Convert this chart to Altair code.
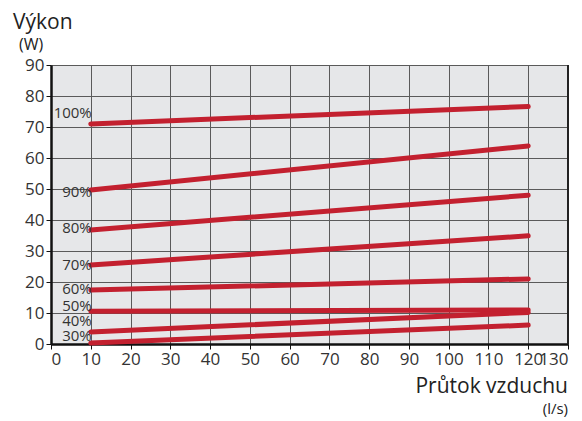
import altair as alt
import pandas as pd

labels = ["100%", "90%", "80%", "70%", "60%", "50%", "40%", "30%"]
flow_start = [10] * 8
flow_end = [120] * 8
power_start = [71.0, 49.7, 36.8, 25.5, 17.4, 10.6, 3.9, 0.3]
power_end = [76.6, 63.9, 48.0, 34.9, 21.0, 11.0, 10.2, 6.1]
label_y = [74.6, 49.0, 37.4, 25.5, 17.7, 12.4, 7.3, 2.5]

rows = []
for i, lab in enumerate(labels):
    rows.append({"s": lab, "x": flow_start[i], "y": power_start[i], "o": 0})
    rows.append({"s": lab, "x": flow_end[i], "y": power_end[i], "o": 1})
df = pd.DataFrame(rows)
lab_df = pd.DataFrame({"s": labels, "x": flow_start, "y": label_y})

FONT = "Open Sans"
xs = alt.Scale(domain=[0, 130], nice=False)
ys = alt.Scale(domain=[0, 90], nice=False)

def mkaxis(vals):
    return alt.Axis(values=vals, grid=True, gridColor="#5a5a5a", labelOverlap=False,
                    gridWidth=1, domainColor="#111", domainWidth=2.5, tickColor="#111",
                    tickSize=5, labelFontSize=17, labelColor="#333", labelFont=FONT,
                    labelPadding=2, title=None)

xaxis = mkaxis(list(range(0, 131, 10)))
yaxis = mkaxis(list(range(0, 91, 10)))

lines = alt.Chart(df).mark_line(color="#c3202f", strokeWidth=5, strokeCap="round").encode(
    x=alt.X("x:Q", scale=xs, axis=xaxis),
    y=alt.Y("y:Q", scale=ys, axis=yaxis),
    detail="s:N",
    order="o:Q",
)

texts = alt.Chart(lab_df).mark_text(align="right", baseline="middle", fontSize=15,
                                    color="#333", font=FONT, dx=1).encode(
    x=alt.X("x:Q", scale=xs, axis=xaxis), y=alt.Y("y:Q", scale=ys, axis=yaxis), text="s:N")

border = alt.Chart(pd.DataFrame({"x": [130]})).mark_rule(color="#222", strokeWidth=2).encode(
    x=alt.X("x:Q", scale=xs, axis=xaxis))

def note(txt, size, align, xv, yv):
    return alt.Chart(pd.DataFrame({"t": [txt]})).mark_text(
        fontSize=size, align=align, baseline="alphabetic", color="#222", font=FONT
    ).encode(text="t:N", x=alt.value(xv), y=alt.value(yv))

t1 = note("Výkon", 21, "left", -38, -36)
t2 = note("(W)", 16, "left", -32, -15)
t3 = note("Průtok vzduchu", 21, "right", 517, 328)
t4 = note("(l/s)", 15, "right", 517, 349)

chart = alt.layer(lines, border, texts, t1, t2, t3, t4).properties(
    width=517, height=279,
    autosize=alt.AutoSizeParams(type="none"),
    padding={"left": 43, "top": 57, "right": 6, "bottom": 76},
).configure_view(fill="#e6e7e9", stroke=None)

chart.save("out.html", embed_options={"renderer": "svg", "actions": False})
